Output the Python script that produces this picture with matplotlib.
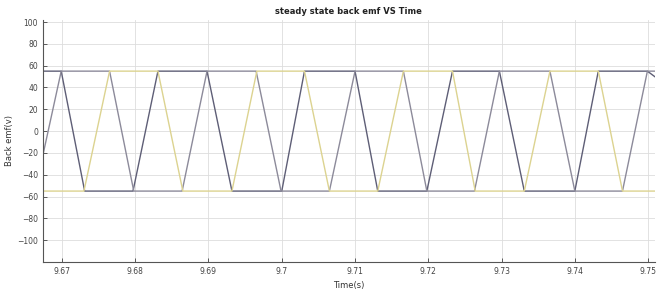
import matplotlib.pyplot as plt

# corner points (time in s, back emf in V)
t_a = [9.6674, 9.6699, 9.6731, 9.6797, 9.6831, 9.6898, 9.6932, 9.7000, 9.7031,
       9.7100, 9.7131, 9.7198, 9.7233, 9.7297, 9.7331, 9.7400, 9.7432, 9.7499, 9.7509]
e_a = [55, 55, -55, -55, 55, 55, -55, -55, 55,
       55, -55, -55, 55, 55, -55, -55, 55, 55, 50]

t_b = [9.6674, 9.6699, 9.6765, 9.6798, 9.6864, 9.6898, 9.6965, 9.6999, 9.7065,
       9.7100, 9.7166, 9.7198, 9.7263, 9.7297, 9.7366, 9.7400, 9.7465, 9.7499, 9.7509]
e_b = [-22, 55, 55, -55, -55, 55, 55, -55, -55,
       55, 55, -55, -55, 55, 55, -55, -55, 55, 55]

t_c = [9.6674, 9.6730, 9.6765, 9.6831, 9.6865, 9.6932, 9.6966, 9.7031, 9.7065,
       9.7131, 9.7166, 9.7233, 9.7264, 9.7331, 9.7366, 9.7432, 9.7465, 9.7509]
e_c = [-55, -55, 55, 55, -55, -55, 55, 55, -55,
       -55, 55, 55, -55, -55, 55, 55, -55, -55]

x_ticks = [9.67, 9.68, 9.69, 9.70, 9.71, 9.72, 9.73, 9.74, 9.75]
x_labels = ['9.67', '9.68', '9.69', '9.7', '9.71', '9.72', '9.73', '9.74', '9.75']
y_ticks = [-100, -80, -60, -40, -20, 0, 20, 40, 60, 80, 100]

fig = plt.figure(figsize=(6.6, 2.97), dpi=100)
ax = fig.add_axes([0.065, 0.118, 0.927, 0.815])

ax.plot(t_a, e_a, color='#5e5e76', lw=1.0)
ax.plot(t_b, e_b, color='#8c8a9a', lw=1.0)
ax.plot(t_c, e_c, color='#dcd390', lw=1.0)

ax.set_xlim(9.6674, 9.7509)
ax.set_ylim(-120, 102)
ax.set_xticks(x_ticks)
ax.set_xticklabels(x_labels)
ax.set_yticks(y_ticks)
ax.tick_params(direction='in', labelsize=5.5, colors='#444444', length=3, width=0.6)
ax.grid(True, color='#dddddd', lw=0.6)
ax.set_axisbelow(True)
for s in ['top', 'right']:
    ax.spines[s].set_visible(False)
for s in ['left', 'bottom']:
    ax.spines[s].set_color('#555555')
    ax.spines[s].set_linewidth(0.8)

ax.set_title('steady state back emf VS Time', fontsize=6, fontweight='bold',
             color='#222222', pad=4)
ax.set_xlabel('Time(s)', fontsize=6, color='#333333', labelpad=4)
ax.set_ylabel('Back emf(v)', fontsize=6, color='#333333', labelpad=2)

fig.savefig('out.png', dpi=100)
